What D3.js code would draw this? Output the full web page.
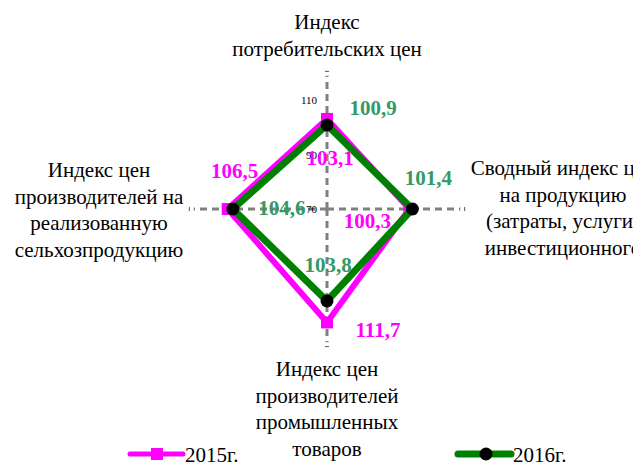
<!DOCTYPE html>
<html>
<head>
<meta charset="utf-8">
<script src="https://cdn.jsdelivr.net/npm/d3@7"></script>
<style>
  body { margin: 0; background: #fff; }
  svg { display: block; }
</style>
</head>
<body>
<div id="chart"></div>
<script>
// Radar chart data
const categories = [
    ["Индекс", "потребительских цен"],
    ["Сводный индекс цен", "на продукцию", "(затраты, услуги)", "инвестиционного"],
    ["Индекс цен", "производителей", "промышленных", "товаров"],
    ["Индекс цен", "производителей на", "реализованную", "сельхозпродукцию"]
];
const seriesNames = ["2015г.", "2016г."];
const values2015 = [103.1, 100.3, 111.7, 106.5];
const values2016 = [100.9, 101.4, 103.8, 104.6];
const tickValues = [70, 90, 110];

const width = 633, height = 464;
const cx = 327, cy = 209;
const serifFont = '"Liberation Serif"';

const svg = d3.select("#chart").append("svg")
    .attr("width", width)
    .attr("height", height);

const r = d3.scaleLinear().domain([70, 120]).range([0, 136]);
const angle = i => i * Math.PI / 2; // clockwise from top
const pt = (i, v) => [cx + r(v) * Math.sin(angle(i)), cy - r(v) * Math.cos(angle(i))];

// Axes (dashed)
categories.forEach((c, i) => {
    const [x2, y2] = pt(i, 119);
    svg.append("line")
        .attr("x1", cx).attr("y1", cy).attr("x2", x2).attr("y2", y2)
        .attr("stroke", "#808080")
        .attr("stroke-width", 3)
        .attr("stroke-dasharray", "7,5");
    // small end tick
    const [tx, ty] = pt(i, 120.6);
    const horiz = i % 2 === 1;
    svg.append("line")
        .attr("x1", horiz ? tx : tx - 2).attr("x2", horiz ? tx : tx + 2)
        .attr("y1", horiz ? ty - 2 : ty).attr("y2", horiz ? ty + 2 : ty)
        .attr("stroke", "#555").attr("stroke-width", 1);
});

// Tick labels
svg.selectAll(".tick-label")
    .data(tickValues)
    .enter().append("text")
    .attr("class", "tick-label")
    .attr("x", cx - 10)
    .attr("y", d => cy - r(d) + 4)
    .attr("text-anchor", "end")
    .style("font-family", serifFont)
    .style("font-size", "11px")
    .text(d => d);

// Category labels
const catPos = [
    {x: 327, y: 29},
    {x: 563, y: 175},
    {x: 327, y: 376},
    {x: 99, y: 177}
];
categories.forEach((lines, i) => {
    const t = svg.append("text")
        .attr("text-anchor", "middle")
        .style("font-family", serifFont)
        .style("font-size", "21px")
        .attr("fill", "#000");
    lines.forEach((ln, k) => {
        t.append("tspan")
            .attr("x", catPos[i].x)
            .attr("y", catPos[i].y + k * 26.5)
            .text(ln);
    });
});

const line = d3.line().curve(d3.curveLinearClosed);

const series = [
    {name: seriesNames[0], values: values2015, color: "#ff00ff", labelColor: "#ff00ff", width: 6, marker: "square",
     offsets: [[3, 39], [-42, 11], [51, 7], [7, -39]]},
    {name: seriesNames[1], values: values2016, color: "#008000", labelColor: "#339966", width: 7, marker: "circle",
     offsets: [[46, -17], [16, -32], [1, -36], [49, -2]]}
];

series.forEach(s => {
    const pts = s.values.map((v, i) => pt(i, v));
    svg.append("path")
        .attr("d", line(pts))
        .attr("fill", "none")
        .attr("stroke", s.color)
        .attr("stroke-width", s.width)
        .attr("stroke-linejoin", "miter");
    pts.forEach(p => {
        if (s.marker === "square") {
            svg.append("rect")
                .attr("x", p[0] - 6).attr("y", p[1] - 6)
                .attr("width", 12).attr("height", 12)
                .attr("fill", s.color);
        } else {
            svg.append("circle")
                .attr("cx", p[0]).attr("cy", p[1]).attr("r", 6.5)
                .attr("fill", "#000");
        }
    });
});

// Data labels
series.forEach(s => {
    s.values.forEach((v, i) => {
        const p = pt(i, v);
        svg.append("text")
            .attr("x", p[0] + s.offsets[i][0])
            .attr("y", p[1] + s.offsets[i][1] + 7.5)
            .attr("text-anchor", "middle")
            .style("font-family", serifFont)
            .style("font-size", "21px")
            .style("font-weight", "bold")
            .attr("fill", s.labelColor)
            .text(d3.format(".1f")(v).replace(".", ","));
    });
});

// Legend
const legend = [
    {x: 130, s: series[0]},
    {x: 458, s: series[1]}
];
legend.forEach(l => {
    const g = svg.append("g");
    g.append("line")
        .attr("x1", l.x).attr("x2", l.x + 53)
        .attr("y1", 454).attr("y2", 454)
        .attr("stroke", l.s.color)
        .attr("stroke-width", l.s.marker === "square" ? 5 : 7)
        .attr("stroke-linecap", "round");
    if (l.s.marker === "square") {
        g.append("rect").attr("x", l.x + 21).attr("y", 448).attr("width", 12).attr("height", 12).attr("fill", l.s.color);
    } else {
        g.append("circle").attr("cx", l.x + 28).attr("cy", 454).attr("r", 6.5).attr("fill", "#000");
    }
    g.append("text")
        .attr("x", l.x + 55)
        .attr("y", 462)
        .style("font-family", serifFont)
        .style("font-size", "21px")
        .text(l.s.name);
});
</script>
</body>
</html>
